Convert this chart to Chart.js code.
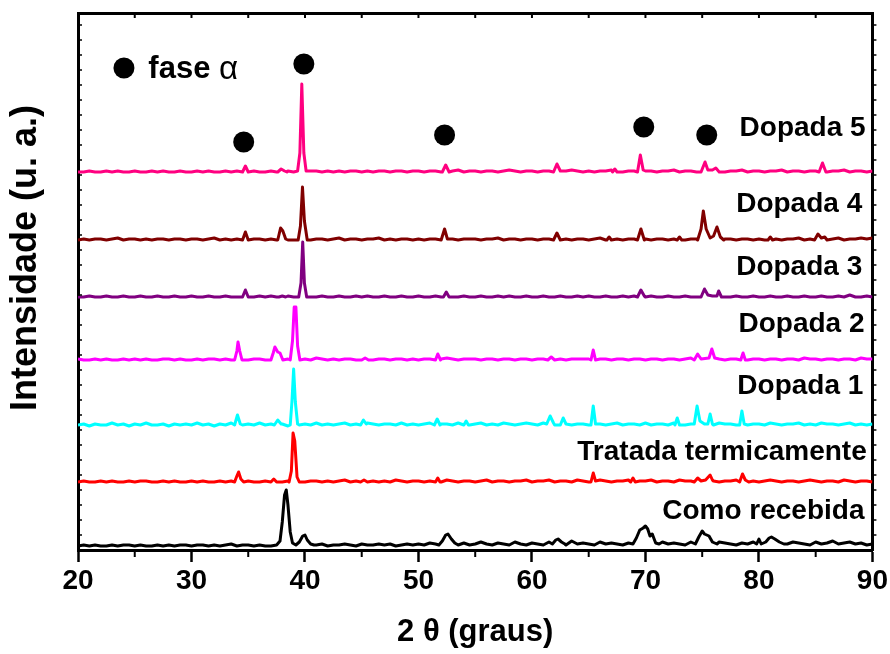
<!DOCTYPE html>
<html><head><meta charset="utf-8">
<script src="https://cdn.jsdelivr.net/npm/chart.js@4.4.0/dist/chart.umd.min.js"></script>
<style>html,body{margin:0;padding:0;background:#fff;}#wrap{width:890px;height:654px;}</style>
</head><body><div id="wrap"><canvas id="c" width="890" height="654"></canvas></div>
<script>
// ---- DATA ----
const seriesNames = ['Como recebida','Tratada termicamente','Dopada 1','Dopada 2','Dopada 3','Dopada 4','Dopada 5'];
const seriesColors = ['#000000','#ff0000','#00ffff','#ff00ff','#800080','#800000','#ff0080'];
const offsets = [3, 67, 123, 189, 252, 309, 377];
const xTicks = [20,30,40,50,60,70,80,90];
const noiseStart = 20, noiseStep = 0.5;

const comoNoise = [1,2,1,2,1,1,2,1,2,2, 1,2,1,1,2,1,2,1,2,2, 1,2,2,1,2,1,2,3,1,2, 2,1,2,1,1,2,1,2,2,1,
 2,1,2,3,1,2,2,3,2,1, 3,2,2,3,2,3,1,2,3,2, 3,2,4,3,2,5,2,3,4,2, 3,5,3,2,4,3,2,5,3,2,
 4,3,2,5,3,4,2,6,3,4, 3,2,5,3,4,3,2,4,3,5, 3,4,2,5,3,4,3,2,5,3, 2,4,3,5,4,3,2,4,3,5,
 4,3,5,2,4,3,5,4,3,2, 5,3,4,6,3,4,5,3,4,2, 3];
const tratadaNoise = [1,2,1,1,2,1,2,1,1,2, 1,2,2,1,1,2,1,2,1,1, 2,1,2,1,1,2,1,2,2,1, 2,1,1,2,1,2,1,2,1,2,
 1,2,2,1,2,1,2,3,1,2, 1,2,2,1,2,1,3,2,1,2, 2,1,2,2,1,3,2,1,2,2, 1,2,3,1,2,2,1,2,2,3,
 1,2,2,3,1,2,2,1,3,2, 1,2,3,2,1,2,2,3,1,2, 2,3,1,2,2,1,3,2,2,1, 2,3,2,1,2,2,3,1,2,2,
 1,2,3,2,1,2,2,1,2,3, 2,1,2,2,1,3,2,1,2,2, 1];
const dopada1Noise = [2,3,1,3,2,2,4,2,3,1, 3,2,4,2,2,3,1,3,2,3, 2,4,2,3,1,3,2,4,3,2, 3,2,4,2,3,2,3,1,3,2,
 3,2,4,2,3,2,3,4,2,3, 2,4,3,2,3,3,2,4,2,3, 2,3,4,2,3,3,2,4,3,2, 3,4,2,3,2,4,3,2,3,4,
 3,2,4,3,2,3,4,2,3,3, 2,4,3,2,3,4,2,3,3,2, 4,2,3,3,2,4,3,2,3,4, 2,3,2,4,3,3,2,4,2,3,
 3,2,4,3,2,3,3,4,2,3, 2,4,3,3,2,3,4,2,3,2, 3];
const dopada2Noise = [2,1,1,2,1,2,1,1,2,1, 2,1,2,1,1,2,2,1,2,1, 1,2,1,2,2,1,2,1,2,1, 1,2,2,1,2,1,1,2,1,2,
 2,1,3,2,1,2,1,2,2,1, 2,3,1,2,2,1,2,2,1,2, 1,2,2,1,2,3,2,1,2,2, 2,1,2,2,1,2,2,1,2,2,
 1,2,2,1,3,2,1,2,2,2, 2,1,2,2,1,2,2,1,2,2, 1,2,2,1,2,2,1,2,3,2, 2,1,2,2,1,2,2,3,1,2,
 2,1,2,2,1,2,2,1,3,2, 2,1,2,2,1,2,2,1,3,2, 2];
const dopada3Noise = [1,1,2,1,1,2,1,1,2,1, 1,2,1,1,2,1,1,2,1,1, 2,1,1,2,1,1,2,1,1,2, 1,1,2,1,2,1,1,2,1,1,
 2,1,1,2,1,1,2,1,1,2, 1,2,1,1,2,1,1,2,1,1, 2,1,1,2,1,2,1,1,2,1, 1,2,1,1,2,1,2,1,1,2,
 1,1,2,1,1,2,1,1,2,1, 2,1,1,2,1,1,2,1,2,1, 1,2,1,1,2,1,1,2,1,1, 2,1,1,2,1,1,2,1,1,2,
 1,1,2,1,1,2,1,1,2,1, 1,2,1,1,2,1,3,1,1,2, 1];
const dopada4Noise = [1,2,1,2,2,1,2,3,1,2, 2,1,2,1,2,2,1,2,2,1, 2,2,1,2,3,1,2,1,2,2, 1,2,2,1,2,1,2,2,1,2,
 2,1,2,2,1,2,3,1,2,2, 1,2,2,3,1,2,1,2,2,1, 2,1,2,2,1,3,2,1,2,2, 2,1,2,2,3,1,2,2,1,2,
 2,1,2,2,1,2,2,1,2,2, 1,2,3,1,2,2,1,2,2,1, 2,1,2,2,1,2,2,1,2,2, 1,2,2,1,2,2,1,2,2,1,
 2,1,3,2,1,2,2,3,1,2, 2,1,2,2,3,1,2,2,3,2, 3];
const dopada5Noise = [1,1,2,1,1,2,1,2,1,1, 2,1,1,2,1,2,1,1,2,1, 1,2,1,2,1,1,2,1,2,2, 1,2,1,1,2,1,1,2,1,2,
 1,2,2,1,2,1,2,1,2,2, 1,2,1,2,2,1,2,2,1,2, 2,1,2,2,1,2,2,3,1,2, 2,1,2,2,1,2,3,2,1,2,
 2,1,2,2,1,2,2,3,2,1, 2,1,2,2,3,2,1,2,2,1, 2,2,1,2,2,3,1,2,2,1, 2,1,2,2,1,2,2,3,1,2,
 2,1,2,2,3,1,2,2,1,2, 2,2,1,2,2,3,1,2,2,1, 2];

const comoPeaks = [
 [[37.5,2],[37.8,6],[38.0,25],[38.2,52],[38.35,57],[38.5,42],[38.7,15],[38.9,4],[39.2,2],[39.5,5],[39.8,11],[40.0,12],[40.2,7],[40.5,3],[40.8,2]],
 [[51.8,2],[52.1,6],[52.4,12],[52.6,13],[52.9,8],[53.2,4],[53.5,2]],
 [[61.8,3],[62.1,7],[62.3,8],[62.6,5],[62.9,3]],
 [[68.9,3],[69.2,9],[69.5,17],[69.8,19],[70.0,21],[70.2,18],[70.4,11],[70.6,13],[70.9,4],[71.2,3]],
 [[74.4,3],[74.7,10],[75.0,16],[75.2,13],[75.4,12],[75.6,11],[75.9,5],[76.3,3]],
 [[79.8,3],[80.0,8],[80.2,3],[80.6,5],[80.9,9],[81.1,10],[81.4,8],[81.8,5],[82.2,3]]
];
const tratadaPeaks = [
 [[33.8,1],[34.0,7],[34.15,11],[34.35,4],[34.6,1]],
 [[37.0,1],[37.25,4],[37.5,1]],
 [[38.6,1],[38.8,12],[38.95,50],[39.1,42],[39.3,6],[39.5,1]],
 [[44.9,1],[45.2,3],[45.5,1]],
 [[51.5,1],[51.7,5],[51.9,1]],
 [[65.2,1],[65.4,10],[65.6,2]],
 [[68.7,1],[68.9,5],[69.1,1]],
 [[74.3,1],[74.6,5],[74.9,2],[75.3,3],[75.7,8],[75.9,3]],
 [[78.3,1],[78.55,9],[78.8,3],[79.1,1]]
];
const dopada1Peaks = [
 [[33.8,2],[34.05,12],[34.3,3]],
 [[37.3,2],[37.6,7],[37.9,3]],
 [[38.7,2],[38.85,25],[39.0,58],[39.15,25],[39.35,3]],
 [[44.9,2],[45.15,7],[45.4,3]],
 [[51.4,2],[51.65,8],[51.9,2]],
 [[54.0,2],[54.2,6],[54.4,2]],
 [[61.3,3],[61.6,11],[61.9,4]],
 [[62.5,2],[62.75,9],[63.0,3]],
 [[65.2,2],[65.4,21],[65.6,3]],
 [[72.6,2],[72.8,9],[73.0,2]],
 [[74.3,3],[74.55,21],[74.8,6],[75.2,3]],
 [[75.5,3],[75.7,13],[75.9,3]],
 [[78.3,2],[78.5,16],[78.7,3]]
];
const dopada2Peaks = [
 [[33.8,1],[34.0,10],[34.1,19],[34.25,10],[34.45,1]],
 [[37.0,1],[37.2,8],[37.35,14],[37.6,9],[37.8,8],[38.05,1]],
 [[38.7,1],[38.9,20],[39.05,54],[39.2,54],[39.35,15],[39.55,1]],
 [[45.0,1],[45.3,3],[45.6,1]],
 [[51.5,1],[51.7,7],[51.95,1]],
 [[61.4,1],[61.7,4],[62.0,1]],
 [[65.2,1],[65.4,11],[65.6,1]],
 [[74.3,1],[74.6,7],[74.9,2],[75.6,3],[75.85,12],[76.1,3]],
 [[78.4,1],[78.6,8],[78.8,1]]
];
const dopada3Peaks = [
 [[34.5,1],[34.75,8],[35.0,1]],
 [[37.7,1],[38.0,2],[38.3,1]],
 [[39.45,1],[39.65,15],[39.8,56],[39.95,15],[40.15,1]],
 [[52.2,1],[52.45,6],[52.7,1]],
 [[69.3,1],[69.6,8],[69.9,2]],
 [[74.9,1],[75.2,9],[75.5,3],[75.9,2],[76.3,2],[76.45,7],[76.7,1]]
];
const dopada4Peaks = [
 [[34.5,1],[34.75,9],[35.0,1]],
 [[37.6,1],[37.85,13],[38.05,10],[38.3,2],[38.5,1]],
 [[39.4,1],[39.6,15],[39.78,54],[39.95,20],[40.2,1]],
 [[52.0,1],[52.3,12],[52.55,2]],
 [[61.9,1],[62.2,8],[62.5,1]],
 [[66.6,1],[66.8,4],[67.0,1]],
 [[69.3,1],[69.6,12],[69.9,1]],
 [[72.8,1],[73.0,4],[73.2,1]],
 [[74.6,1],[74.9,12],[75.1,30],[75.35,12],[75.7,3],[76.0,5],[76.3,14],[76.6,4],[76.9,1]],
 [[80.8,1],[81.0,4],[81.2,1]],
 [[84.9,1],[85.2,7],[85.5,3],[85.8,4],[86.0,1]]
];
const dopada5Peaks = [
 [[34.5,1],[34.75,7],[35.0,1]],
 [[37.6,1],[37.9,4],[38.2,2],[38.4,1]],
 [[39.35,2],[39.55,20],[39.72,89],[39.9,20],[40.1,2]],
 [[52.1,1],[52.4,8],[52.7,1]],
 [[61.9,1],[62.2,9],[62.5,2]],
 [[67.1,1],[67.3,4],[67.5,1]],
 [[69.3,1],[69.55,18],[69.8,3]],
 [[74.9,1],[75.25,11],[75.5,3],[75.9,3],[76.2,5],[76.5,1]],
 [[85.3,1],[85.6,10],[85.9,1]]
];
// alpha phase markers (2theta, intensity)
const alphaX = [24.05, 34.6, 39.9, 52.3, 69.85, 75.4];
const alphaY = [482, 408, 486, 415, 423, 415];

const allNoise = [comoNoise, tratadaNoise, dopada1Noise, dopada2Noise, dopada3Noise, dopada4Noise, dopada5Noise];
const allPeaks = [comoPeaks, tratadaPeaks, dopada1Peaks, dopada2Peaks, dopada3Peaks, dopada4Peaks, dopada5Peaks];

function buildSeries(noise, peaks, offset) {
  const ranges = peaks.map(p => [p[0][0], p[p.length-1][0]]);
  const pts = [];
  noise.forEach((v, i) => {
    const x = noiseStart + i * noiseStep;
    if (!ranges.some(r => x >= r[0] && x <= r[1])) pts.push([x, v]);
  });
  peaks.forEach(p => p.forEach(q => pts.push(q)));
  pts.sort((a, b) => a[0] - b[0]);
  return pts.map(([x, y]) => ({x: x, y: y + offset}));
}

const FONT = '"Liberation Sans", Arial, sans-serif';

// label anchors (2theta of right edge, intensity of text middle)
const labelAnchors = [
  {x: 89.3, y: 39}, {x: 89.5, y: 98}, {x: 89.2, y: 164}, {x: 89.3, y: 226},
  {x: 89.1, y: 283}, {x: 89.1, y: 346}, {x: 89.4, y: 422}
];

const datasets = seriesNames.map((n, i) => ({
  label: n,
  data: buildSeries(allNoise[i], allPeaks[i], offsets[i]),
  borderColor: seriesColors[i],
  backgroundColor: seriesColors[i],
  borderWidth: 3,
  pointRadius: 0,
  tension: 0,
  fill: false,
  borderJoinStyle: 'round'
}));
datasets.push({
  label: 'fase α',
  type: 'scatter',
  data: alphaX.map((x, i) => ({x: x, y: alphaY[i]})),
  pointRadius: 10.5,
  pointBackgroundColor: '#000',
  pointBorderWidth: 0,
  showLine: false
});

const decorPlugin = {
  id: 'decor',
  afterDraw(chart) {
    const ctx = chart.ctx;
    const xs = chart.scales.x, ys = chart.scales.y;
    const a = chart.chartArea;
    ctx.save();
    ctx.strokeStyle = '#000';
    ctx.lineWidth = 2;
    for (let v = 25; v < 90; v += 10) {
      const px = xs.getPixelForValue(v);
      ctx.beginPath(); ctx.moveTo(px, a.bottom); ctx.lineTo(px, a.bottom + 7); ctx.stroke();
    }
    for (let v = 25; v < 90; v += 5) {
      const px = xs.getPixelForValue(v);
      ctx.beginPath(); ctx.moveTo(px, a.top); ctx.lineTo(px, a.top + 5); ctx.stroke();
    }
    ctx.lineWidth = 1.5;
    for (let v = 15; v < 537; v += 15) {
      const py = ys.getPixelForValue(v);
      ctx.beginPath(); ctx.moveTo(a.left, py); ctx.lineTo(a.left + 4, py); ctx.stroke();
      ctx.beginPath(); ctx.moveTo(a.right, py); ctx.lineTo(a.right + 4, py); ctx.stroke();
    }
    ctx.fillStyle = '#000';
    // y axis title
    ctx.save();
    ctx.translate(26, ys.getPixelForValue(292));
    ctx.rotate(-Math.PI / 2);
    ctx.font = 'bold 36px ' + FONT;
    ctx.textAlign = 'center';
    ctx.textBaseline = 'middle';
    ctx.fillText('Intensidade (u. a.)', 0, 0);
    ctx.restore();
    // series labels
    ctx.font = 'bold 28px ' + FONT;
    ctx.textAlign = 'right';
    ctx.textBaseline = 'middle';
    seriesNames.forEach((n, i) => {
      ctx.fillText(n, xs.getPixelForValue(labelAnchors[i].x), ys.getPixelForValue(labelAnchors[i].y));
    });
    // legend text "fase α"
    ctx.textAlign = 'left';
    ctx.textBaseline = 'alphabetic';
    ctx.font = 'bold 31px ' + FONT;
    const lx = xs.getPixelForValue(26.2), ly = ys.getPixelForValue(472);
    ctx.fillText('fase', lx, ly);
    const w = ctx.measureText('fase ').width;
    ctx.font = '33px ' + FONT;
    ctx.fillText('α', lx + w, ly + 1);
    ctx.restore();
  }
};

new Chart(document.getElementById('c'), {
  type: 'line',
  data: {datasets: datasets},
  options: {
    responsive: false,
    animation: false,
    devicePixelRatio: 1,
    layout: {padding: 0},
    plugins: {legend: {display: false}, tooltip: {enabled: false}},
    scales: {
      x: {
        type: 'linear', position: 'bottom', min: 20, max: 90,
        afterBuildTicks: s => { s.ticks = xTicks.map(v => ({value: v})); },
        ticks: {font: {family: FONT, size: 28, weight: 'bold'}, color: '#000', padding: 2, maxRotation: 0},
        grid: {drawOnChartArea: false, tickLength: 12, tickWidth: 2.5, tickColor: '#000'},
        border: {color: '#000', width: 3},
        title: {display: true, text: '2 θ (graus)', font: {family: FONT, size: 31, weight: 'bold'}, color: '#000', padding: {top: 0, bottom: 3}},
        afterFit: s => { s.height = 104; }
      },
      x2: {
        type: 'linear', position: 'top', min: 20, max: 90,
        ticks: {display: false}, grid: {display: false},
        border: {color: '#000', width: 3},
        afterFit: s => { s.height = 13; }
      },
      y: {
        type: 'linear', position: 'left', min: 0, max: 537,
        ticks: {display: false}, grid: {display: false},
        border: {color: '#000', width: 3},
        afterFit: s => { s.width = 78; }
      },
      y2: {
        type: 'linear', position: 'right', min: 0, max: 537,
        ticks: {display: false}, grid: {display: false},
        border: {color: '#000', width: 3},
        afterFit: s => { s.width = 17; }
      }
    }
  },
  plugins: [decorPlugin]
});
</script>
</body></html>
